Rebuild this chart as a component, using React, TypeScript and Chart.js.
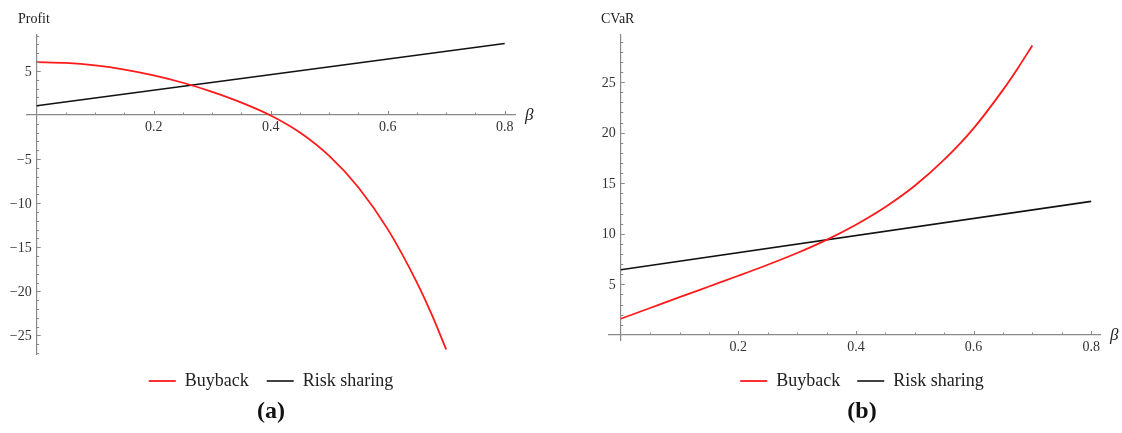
import React, { useEffect, useRef } from 'react';
import { Chart, registerables } from 'chart.js';

Chart.register(...registerables);

// ---------- data ----------
const seriesNames = ['Buyback', 'Risk sharing'];
const betaBuyback = [0, 0.05, 0.1, 0.15, 0.2, 0.25, 0.3, 0.35, 0.4, 0.45, 0.5, 0.55, 0.6, 0.65, 0.675, 0.7];
const profitBuyback = [6.0, 5.906, 5.625, 5.156, 4.5, 3.656, 2.625, 1.406, -0.055, -1.99, -4.645, -8.22, -12.94, -19.0, -22.59, -26.58];
const cvarBuyback = [1.6, 2.665, 3.73, 4.79, 5.85, 6.94, 8.1, 9.4, 10.9, 12.65, 14.75, 17.325, 20.425, 24.225, 26.35, 28.62];
const betaRiskSharing = [0, 0.8];
const profitRiskSharing = [1.05, 8.1];
const cvarRiskSharing = [6.45, 13.2];
const xTickLabels = ['0.2', '0.4', '0.6', '0.8'];
const yTickLabelsProfit = ['5', '−5', '−10', '−15', '−20', '−25'];
const yTickLabelsCvar = ['5', '10', '15', '20', '25'];

const SERIF = '"Liberation Serif", "Times New Roman", serif';
const AXIS_COLOR = '#8a8a8a';
const TEXT_COLOR = '#333';

const toNum = (s: string) => Number(s.replace('−', '-'));
const pts = (xs: number[], ys: number[]) => xs.map((x, i) => ({ x, y: ys[i] }));

const decor = {
  id: 'decor',
  afterDraw(chart: any, _a: any, o: any) {
    const { ctx, chartArea } = chart;
    const xs = chart.scales.x;
    const ys = chart.scales.y;
    const x0 = xs.getPixelForValue(0);
    const y0 = ys.getPixelForValue(0);
    ctx.save();
    ctx.strokeStyle = AXIS_COLOR;
    ctx.lineWidth = 1;
    ctx.beginPath();
    const isMajor = (v: number, step: number) => Math.abs(v / step - Math.round(v / step)) < 1e-6;
    for (let i = 1; i * o.xMinor <= xs.max + 1e-9; i++) {
      const v = i * o.xMinor;
      const px = Math.round(xs.getPixelForValue(v)) + 0.5;
      const len = isMajor(v, o.xMajor) ? 4 : 2.5;
      ctx.moveTo(px, y0);
      ctx.lineTo(px, y0 - len);
    }
    for (let i = 1; i * o.yMinor <= ys.max + 1e-9; i++) {
      const v = i * o.yMinor;
      const py = Math.round(ys.getPixelForValue(v)) + 0.5;
      const len = isMajor(v, o.yMajor) ? 4 : 2.5;
      ctx.moveTo(x0, py);
      ctx.lineTo(x0 + len, py);
    }
    for (let i = 1; -i * o.yMinor >= ys.min - 1e-9; i++) {
      const v = -i * o.yMinor;
      const py = Math.round(ys.getPixelForValue(v)) + 0.5;
      const len = isMajor(v, o.yMajor) ? 4 : 2.5;
      ctx.moveTo(x0, py);
      ctx.lineTo(x0 + len, py);
    }
    ctx.stroke();

    // y tick labels
    ctx.fillStyle = TEXT_COLOR;
    ctx.font = `14px ${SERIF}`;
    ctx.textAlign = 'right';
    ctx.textBaseline = 'middle';
    for (const l of o.yLabels as string[]) {
      ctx.fillText(l, x0 - 5, ys.getPixelForValue(toNum(l)) + 1);
    }

    ctx.fillStyle = '#222';
    ctx.textAlign = 'left';
    ctx.font = `14px ${SERIF}`;
    ctx.fillText(o.yTitle, o.yTitleX, o.yTitleY);
    ctx.font = `italic 17px ${SERIF}`;
    ctx.fillText('β', chartArea.right + o.betaGap, y0 + 1);
    ctx.restore();
  },
};

type PanelSpec = {
  caption: string;
  yTitle: string;
  yTitleX: number;
  buyback: number[];
  risk: number[];
  yLabels: string[];
  xMin: number;
  xMax: number;
  yMin: number;
  yMax: number;
  padL: number;
  padR: number;
  rightSpacer: number;
  bottomSpacer: number;
  legendPad: number;
  padB: number;
};

function makeConfig(p: PanelSpec): any {
  const scales: any = {
    x: {
      type: 'linear',
      position: { y: 0 },
      min: p.xMin,
      max: p.xMax,
      grid: { display: false, drawTicks: false },
      border: { display: true, color: AXIS_COLOR, width: 1.2 },
      afterBuildTicks: (s: any) => {
        s.ticks = xTickLabels.map((l) => ({ value: toNum(l) }));
      },
      ticks: {
        padding: 4,
        autoSkip: false,
        maxRotation: 0,
        color: TEXT_COLOR,
        font: { family: SERIF, size: 14 },
        callback: (v: any) => {
          const i = xTickLabels.findIndex((l) => Math.abs(toNum(l) - v) < 1e-9);
          return i >= 0 ? xTickLabels[i] : '';
        },
      },
    },
    y: {
      type: 'linear',
      position: { x: 0 },
      min: p.yMin,
      max: p.yMax,
      grid: { display: false, drawTicks: false },
      border: { display: true, color: AXIS_COLOR, width: 1.2 },
      ticks: { display: false },
    },
  };
  if (p.rightSpacer > 0) {
    scales.spR = {
      type: 'linear',
      position: 'right',
      grid: { display: false, drawTicks: false },
      border: { display: false },
      ticks: { display: false },
      afterFit: (s: any) => {
        s.width = p.rightSpacer;
      },
    };
  }
  if (p.bottomSpacer > 0) {
    scales.spB = {
      type: 'linear',
      position: 'bottom',
      grid: { display: false, drawTicks: false },
      border: { display: false },
      ticks: { display: false },
      afterFit: (s: any) => {
        s.height = p.bottomSpacer;
      },
    };
  }
  return {
    type: 'line',
    data: {
      datasets: [
        {
          label: seriesNames[0],
          data: pts(betaBuyback, p.buyback),
          borderColor: '#ff1a1a',
          backgroundColor: '#ff1a1a',
          borderWidth: 1.8,
          pointRadius: 0,
          cubicInterpolationMode: 'monotone',
          fill: false,
        },
        {
          label: seriesNames[1],
          data: pts(betaRiskSharing, p.risk),
          borderColor: '#111',
          backgroundColor: '#111',
          borderWidth: 1.6,
          pointRadius: 0,
          fill: false,
        },
      ],
    },
    options: {
      responsive: false,
      animation: false,
      events: [],
      layout: { padding: { left: p.padL, right: p.padR, top: 35, bottom: p.padB } },
      plugins: {
        legend: {
          position: 'bottom',
          labels: {
            usePointStyle: true,
            pointStyle: 'line',
            pointStyleWidth: 27,
            padding: p.legendPad,
            color: '#222',
            font: { family: SERIF, size: 18 },
          },
        },
        title: {
          display: true,
          text: p.caption,
          position: 'bottom',
          padding: 0,
          color: '#111',
          font: { family: SERIF, size: 24, weight: 'bold', lineHeight: 1 },
        },
        tooltip: { enabled: false },
        decor: {
          xMinor: 0.05,
          xMajor: 0.2,
          yMinor: 1,
          yMajor: 5,
          yLabels: p.yLabels,
          yTitle: p.yTitle,
          yTitleX: p.yTitleX,
          yTitleY: 19,
          betaGap: 10,
        },
      },
      scales,
    },
    plugins: [decor],
  };
}

function Panel({ left, width, spec }: { left: number; width: number; spec: PanelSpec }) {
  const ref = useRef<HTMLCanvasElement>(null);
  useEffect(() => {
    const chart = new Chart(ref.current as HTMLCanvasElement, makeConfig(spec));
    return () => chart.destroy();
  }, []);
  return (
    <div style={{ position: 'absolute', left, top: 0, width, height: 433 }}>
      <canvas ref={ref} width={width} height={433} style={{ display: 'block' }} />
    </div>
  );
}

const specA: PanelSpec = {
  caption: '(a)',
  yTitle: 'Profit',
  yTitleX: 18,
  buyback: profitBuyback,
  risk: profitRiskSharing,
  yLabels: yTickLabelsProfit,
  xMin: -0.0166,
  xMax: 0.8176,
  yMin: -27.1,
  yMax: 9.07,
  padL: 27,
  padR: 29,
  rightSpacer: 0,
  bottomSpacer: 0,
  legendPad: 18,
  padB: 9,
};

const specB: PanelSpec = {
  caption: '(b)',
  yTitle: 'CVaR',
  yTitleX: 11,
  buyback: cvarBuyback,
  risk: cvarRiskSharing,
  yLabels: yTickLabelsCvar,
  xMin: -0.02,
  xMax: 0.815,
  yMin: -0.5,
  yMax: 29.65,
  padL: 19,
  padR: 7,
  rightSpacer: 15,
  bottomSpacer: 15,
  legendPad: 17,
  padB: 9,
};

export default function App() {
  useEffect(() => {
    document.body.style.margin = '0';
  }, []);
  return (
    <div style={{ position: 'relative', width: 1122, height: 433, background: '#fff', overflow: 'hidden' }}>
      <Panel left={0} width={544} spec={specA} />
      <Panel left={590} width={532} spec={specB} />
    </div>
  );
}
